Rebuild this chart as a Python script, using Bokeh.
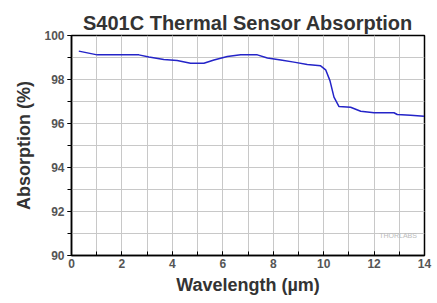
from bokeh.plotting import figure
from bokeh.models import SingleIntervalTicker, Label, Range1d
from bokeh.embed import file_html
from bokeh.resources import INLINE

wavelength = [0.29, 1.02, 2.67, 3.07, 3.66, 4.19, 4.72, 5.25, 5.65, 6.18, 6.71, 7.37,
              7.77, 8.30, 8.82, 9.35, 9.88, 10.08, 10.25, 10.41, 10.61, 11.07, 11.47,
              12.0, 12.79, 12.92, 13.45, 13.98]
absorption = [99.29, 99.12, 99.12, 99.02, 98.91, 98.86, 98.74, 98.74, 98.89, 99.05, 99.12, 99.12,
              98.98, 98.89, 98.79, 98.68, 98.62, 98.44, 97.95, 97.2, 96.77, 96.74, 96.56,
              96.49, 96.49, 96.41, 96.38, 96.33]

FONT = "Liberation Sans"

p = figure(width=437, height=303, output_backend="svg", toolbar_location=None,
           x_range=Range1d(0, 14), y_range=Range1d(90, 100),
           min_border_left=71, min_border_right=13, min_border_top=35, min_border_bottom=48)

p.title.text = "S401C Thermal Sensor Absorption"
p.title.align = "center"
p.title.text_font = FONT
p.title.text_font_size = "20px"
p.title.text_color = "#333333"
p.title.text_font_style = "bold"
p.title.standoff = 4

p.line(wavelength, absorption, line_color="#2424c8", line_width=1.5)

p.xaxis.ticker = SingleIntervalTicker(interval=2, num_minor_ticks=2)
p.yaxis.ticker = SingleIntervalTicker(interval=2, num_minor_ticks=2)

for g in (p.xgrid, p.ygrid):
    g.grid_line_color = "#c8c8c8"
    g.grid_line_width = 1
    g.minor_grid_line_color = "#c8c8c8"
    g.minor_grid_line_width = 1

p.outline_line_color = "black"
p.outline_line_width = 1.5
p.outline_line_alpha = 1

for ax in (p.xaxis, p.yaxis):
    ax.axis_line_color = "black"
    ax.axis_line_width = 1.5
    ax.major_tick_line_color = "black"
    ax.minor_tick_line_color = "black"
    ax.major_label_text_font = FONT
    ax.major_label_text_font_style = "bold"
    ax.major_label_text_font_size = "12px"
    ax.major_label_text_color = "#555555"
    ax.axis_label_text_font = FONT
    ax.axis_label_text_font_style = "bold"
    ax.axis_label_text_font_size = "18px"
    ax.axis_label_text_color = "#333333"

p.xaxis.axis_label = "Wavelength (µm)"
p.yaxis.axis_label = "Absorption (%)"
p.xaxis.major_tick_in = 4
p.xaxis.major_tick_out = 0
p.xaxis.minor_tick_in = 4
p.xaxis.minor_tick_out = 0
p.xaxis.major_label_standoff = 3
p.xaxis.axis_label_standoff = 4
p.yaxis.major_tick_in = 0
p.yaxis.major_tick_out = 4
p.yaxis.minor_tick_in = 0
p.yaxis.minor_tick_out = 4
p.yaxis.major_label_standoff = 3
p.yaxis.axis_label_standoff = 7

wm = Label(x=12.95, y=90.75, text="THORLABS", text_font=FONT, text_font_size="7px",
           text_color="#bbbbbb", text_align="center")
p.add_layout(wm)

open("out.html", "w").write(file_html(p, INLINE))
